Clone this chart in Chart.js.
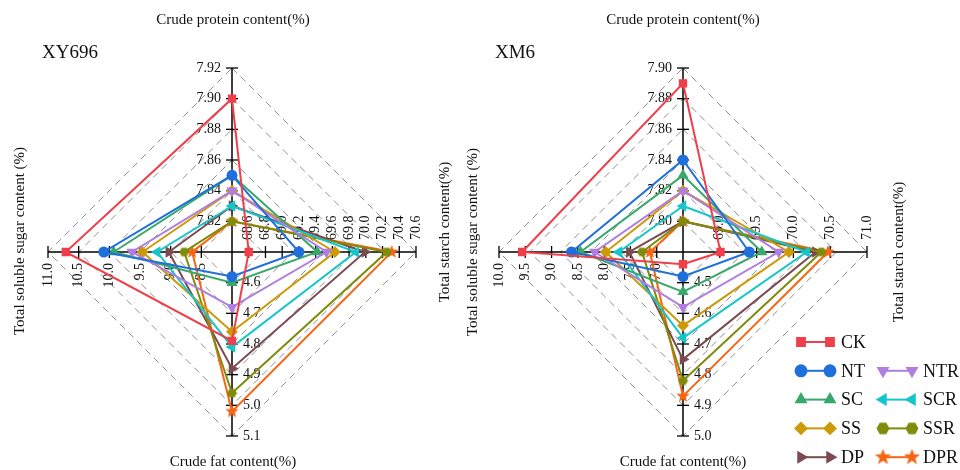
<!DOCTYPE html>
<html>
<head>
<meta charset="utf-8">
<script src="https://cdn.jsdelivr.net/npm/chart.js@4.4.1/dist/chart.umd.min.js"></script>
<style>
html, body { margin: 0; padding: 0; background: #fff; }
#wrap { position: relative; width: 960px; height: 470px; overflow: hidden; }
#box1 { position: absolute; left: 0; top: 0; }
#box2 { position: absolute; left: 458px; top: 0; }
</style>
</head>
<body>
<div id="wrap">
    <div id="box1"><canvas id="xyChart" width="458" height="470"></canvas></div>
    <div id="box2"><canvas id="xmChart" width="502" height="470"></canvas></div>
</div>
<script>
// axes, clockwise from the top
const axisNames = ['Crude protein content(%)', 'Total starch content(%)', 'Crude fat content(%)', 'Total soluble sugar content (%)'];
const groups = ['CK', 'NT', 'NTR', 'SC', 'SCR', 'SS', 'SSR', 'DP', 'DPR'];

// XY696
const xyProtein = [7.90, 7.85, 7.84, 7.85, 7.83, 7.84, 7.82, 7.83, 7.82];
const xyStarch  = [68.60, 69.20, 69.53, 69.42, 69.88, 69.63, 70.25, 69.99, 70.31];
const xyFat     = [4.79, 4.58, 4.68, 4.60, 4.81, 4.76, 4.96, 4.88, 5.02];
const xySugar   = [10.71, 10.09, 9.63, 9.93, 9.22, 9.46, 8.78, 9.03, 8.65];
const xyAxisMin = [7.80, 68.4, 4.5, 8.0];
const xyAxisMax = [7.92, 70.6, 5.1, 11.0];
const xyProteinTicks = ['7.82', '7.84', '7.86', '7.88', '7.90', '7.92'];
const xyStarchTicks  = ['68.6', '68.8', '69.0', '69.2', '69.4', '69.6', '69.8', '70.0', '70.2', '70.4', '70.6'];
const xyFatTicks     = ['4.6', '4.7', '4.8', '4.9', '5.0', '5.1'];
const xySugarTicks   = ['8.5', '9.0', '9.5', '10.0', '10.5', '11.0'];

// XM6
const xmProtein = [7.89, 7.84, 7.82, 7.83, 7.81, 7.82, 7.80, 7.80, 7.80];
const xmStarch  = [69.01, 69.40, 69.80, 69.57, 70.18, 69.94, 70.38, 70.30, 70.47];
const xmFat     = [4.44, 4.48, 4.58, 4.53, 4.68, 4.64, 4.82, 4.75, 4.87];
const xmSugar   = [9.56, 8.62, 8.18, 8.45, 7.72, 7.97, 7.28, 7.52, 7.13];
const xmAxisMin = [7.78, 68.5, 4.4, 6.5];
const xmAxisMax = [7.90, 71.0, 5.0, 10.0];
const xmProteinTicks = ['7.80', '7.82', '7.84', '7.86', '7.88', '7.90'];
const xmStarchTicks  = ['69.0', '69.5', '70.0', '70.5', '71.0'];
const xmFatTicks     = ['4.5', '4.6', '4.7', '4.8', '4.9', '5.0'];
const xmSugarTicks   = ['7.0', '7.5', '8.0', '8.5', '9.0', '9.5', '10.0'];

const LEVELS = 6;
const SERIF = "'Liberation Serif', 'Times New Roman', serif";

const groupColors = ['#ef3f4a', '#1f6fdc', '#b07ee0', '#38a96b', '#14c6ca', '#cc9a08', '#7f8b0a', '#7a4b51', '#f56514'];

function makeMarker(color, size, path) {
    const c = document.createElement('canvas');
    c.width = size; c.height = size;
    const g = c.getContext('2d');
    g.fillStyle = color;
    g.beginPath();
    path(g, size / 2);
    g.closePath();
    g.fill();
    return c;
}
function starPath(g, h) {
    for (let k = 0; k < 10; k++) {
        const rad = k % 2 === 0 ? h : h * 0.42;
        const a = -Math.PI / 2 + k * Math.PI / 5;
        g.lineTo(h + rad * Math.cos(a), h + rad * Math.sin(a));
    }
}
function hexPath(g, h) {
    for (let k = 0; k < 6; k++) {
        const a = k * Math.PI / 3;
        g.lineTo(h + (h - 0.5) * Math.cos(a), h + (h - 0.5) * Math.sin(a));
    }
}

const starImg = makeMarker(groupColors[8], 14, starPath);
const hexImg = makeMarker(groupColors[6], 11, hexPath);
const starBig = makeMarker(groupColors[8], 17, starPath);
const hexBig = makeMarker(groupColors[6], 14, hexPath);

const pointStyles = ['rect', 'circle', 'triangle', 'triangle', 'triangle', 'rectRot', hexImg, 'triangle', starImg];
const legendStyles = ['rect', 'circle', 'triangle', 'triangle', 'triangle', 'rectRot', hexBig, 'triangle', starBig];
const pointRotations = [0, 0, 180, 0, 270, 0, 0, 90, 0];

function buildDatasets(cols, mins, maxs) {
    return groups.map((g, k) => ({
        label: g,
        data: cols.map((col, i) => (col[k] - mins[i]) / (maxs[i] - mins[i]) * LEVELS),
        borderColor: groupColors[k],
        backgroundColor: groupColors[k],
        pointBackgroundColor: groupColors[k],
        pointBorderColor: groupColors[k],
        pointStyle: pointStyles[k],
        pointRotation: pointRotations[k],
        pointRadius: 4.5,
        pointHoverRadius: 4.5,
        borderWidth: 2,
        fill: false,
        tension: 0
    }));
}

const decorPlugin = {
    id: 'decor',
    beforeDatasetsDraw(chart, args, opts) {
        const r = chart.scales.r;
        const ctx = chart.ctx;
        ctx.save();
        ctx.strokeStyle = '#000';
        ctx.fillStyle = '#111';
        ctx.lineWidth = 1.3;
        ctx.font = '14px ' + SERIF;
        ctx.textBaseline = 'middle';
        opts.ticks.forEach((list, i) => {
            list.forEach(lab => {
                const lvl = (parseFloat(lab) - opts.min[i]) / (opts.max[i] - opts.min[i]) * LEVELS;
                const p = r.getPointPosition(i, r.getDistanceFromCenterForValue(lvl));
                const px = -Math.sin(p.angle), py = Math.cos(p.angle);
                ctx.beginPath();
                ctx.moveTo(p.x - px * 6, p.y - py * 6);
                ctx.lineTo(p.x + px * 6, p.y + py * 6);
                ctx.stroke();
                ctx.save();
                if (i === 0) {
                    ctx.textAlign = 'right';
                    ctx.fillText(lab, p.x - 11, p.y);
                } else if (i === 2) {
                    ctx.textAlign = 'left';
                    ctx.fillText(lab, p.x + 11, p.y);
                } else if (i === 1) {
                    ctx.translate(p.x, p.y - 12);
                    ctx.rotate(-Math.PI / 2);
                    ctx.textAlign = 'left';
                    ctx.fillText(lab, 0, 0);
                } else {
                    ctx.translate(p.x, p.y + 11);
                    ctx.rotate(-Math.PI / 2);
                    ctx.textAlign = 'right';
                    ctx.fillText(lab, 0, 0);
                }
                ctx.restore();
            });
        });
        ctx.restore();
    },
    afterDraw(chart, args, opts) {
        const ctx = chart.ctx;
        ctx.save();
        ctx.fillStyle = '#111';
        ctx.textBaseline = 'middle';
        ctx.textAlign = 'center';
        ctx.font = '15px ' + SERIF;
        opts.titles.forEach(t => {
            ctx.save();
            ctx.translate(t.x, t.y);
            if (t.rot) ctx.rotate(-Math.PI / 2);
            ctx.fillText(t.text, 0, 0);
            ctx.restore();
        });
        ctx.font = '19px ' + SERIF;
        ctx.textAlign = 'left';
        ctx.fillText(opts.name.text, opts.name.x, opts.name.y);

        if (opts.legend) {
            const rows = [['CK'], ['NT', 'NTR'], ['SC', 'SCR'], ['SS', 'SSR'], ['DP', 'DPR']];
            const x0 = opts.legend.x, y0 = opts.legend.y;
            ctx.font = '18px ' + SERIF;
            rows.forEach((row, ri) => {
                row.forEach((g, ci) => {
                    const k = groups.indexOf(g);
                    const y = y0 + ri * 28.8;
                    const xa = x0 + ci * 82, xb = xa + 29;
                    ctx.strokeStyle = groupColors[k];
                    ctx.fillStyle = groupColors[k];
                    ctx.lineWidth = 2;
                    ctx.beginPath();
                    ctx.moveTo(xa, y);
                    ctx.lineTo(xb, y);
                    ctx.stroke();
                    [xa, xb].forEach(x => {
                        Chart.helpers.drawPoint(ctx, {
                            pointStyle: legendStyles[k],
                            rotation: pointRotations[k],
                            radius: 5.5,
                            borderWidth: 1
                        }, x, y);
                    });
                    ctx.fillStyle = '#111';
                    ctx.fillText(g, xb + 11, y + 1);
                });
            });
        }
        ctx.restore();
    }
};

function radarOptions(padding, decor) {
    return {
        responsive: false,
        animation: false,
        layout: { padding: padding },
        plugins: {
            legend: { display: false },
            tooltip: { enabled: false },
            decor: decor
        },
        scales: {
            r: {
                min: 0,
                max: LEVELS,
                ticks: { display: false, stepSize: 1 },
                pointLabels: { display: false },
                grid: { color: '#8f8f8f', lineWidth: 1 },
                border: { dash: [7, 5] },
                angleLines: { color: '#000', lineWidth: 1.5 }
            }
        }
    };
}

document.addEventListener('DOMContentLoaded', function() {
    // XY696 radar
    new Chart(document.getElementById('xyChart').getContext('2d'), {
        type: 'radar',
        data: {
            labels: axisNames,
            datasets: buildDatasets([xyProtein, xyStarch, xyFat, xySugar], xyAxisMin, xyAxisMax)
        },
        options: radarOptions({ left: 48, right: 42, top: 68, bottom: 34 }, {
            min: xyAxisMin,
            max: xyAxisMax,
            ticks: [xyProteinTicks, xyStarchTicks, xyFatTicks, xySugarTicks],
            titles: [
                { text: axisNames[0], x: 233, y: 20 },
                { text: axisNames[2], x: 233, y: 462 },
                { text: axisNames[3], x: 20, y: 241, rot: true },
                { text: axisNames[1], x: 445, y: 232, rot: true }
            ],
            name: { text: 'XY696', x: 42, y: 53 },
            legend: null
        }),
        plugins: [decorPlugin]
    });

    // XM6 radar
    new Chart(document.getElementById('xmChart').getContext('2d'), {
        type: 'radar',
        data: {
            labels: axisNames,
            datasets: buildDatasets([xmProtein, xmStarch, xmFat, xmSugar], xmAxisMin, xmAxisMax)
        },
        options: radarOptions({ left: 41, right: 93, top: 68, bottom: 34 }, {
            min: xmAxisMin,
            max: xmAxisMax,
            ticks: [xmProteinTicks, xmStarchTicks, xmFatTicks, xmSugarTicks],
            titles: [
                { text: axisNames[0], x: 225, y: 20 },
                { text: axisNames[2], x: 225, y: 462 },
                { text: axisNames[3], x: 15, y: 242, rot: true },
                { text: axisNames[1], x: 441, y: 252, rot: true }
            ],
            name: { text: 'XM6', x: 37, y: 53 },
            legend: { x: 801 - 458, y: 342 }
        }),
        plugins: [decorPlugin]
    });
});
</script>
</body>
</html>
